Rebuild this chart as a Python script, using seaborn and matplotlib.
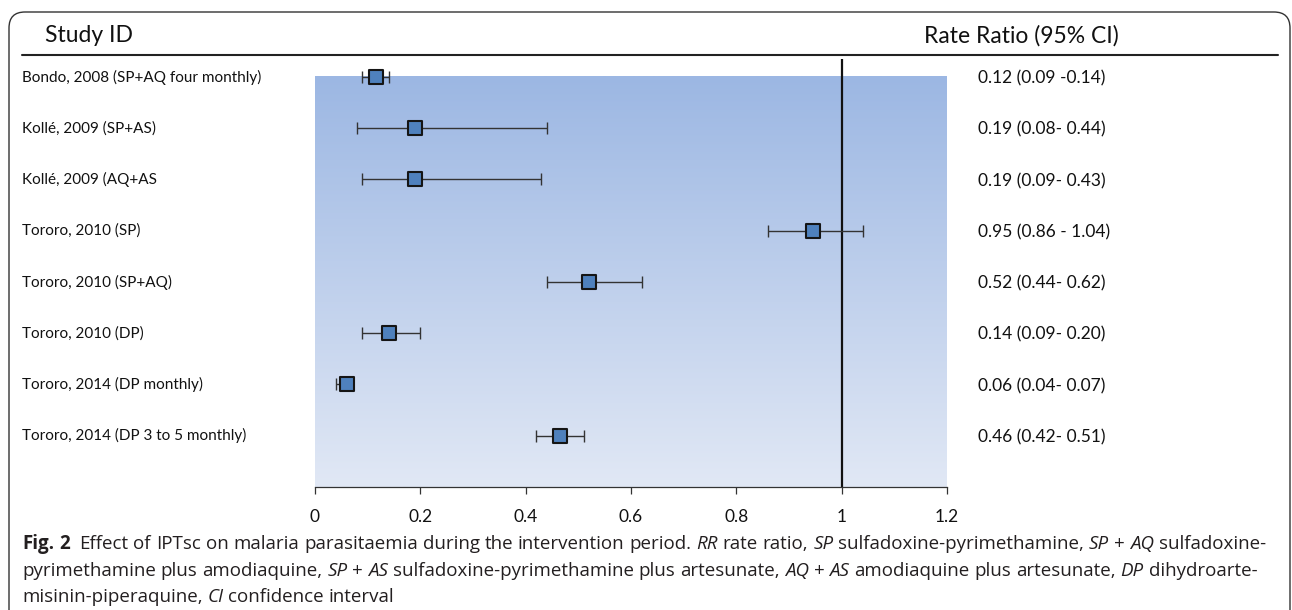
import matplotlib
matplotlib.use("Agg")
import matplotlib.pyplot as plt
import matplotlib.transforms as mtransforms
from matplotlib.patches import FancyBboxPatch
from matplotlib.colors import LinearSegmentedColormap
import numpy as np
import pandas as pd
import seaborn as sns

# ---------------- data ----------------
studies = [
    "Bondo, 2008 (SP+AQ four monthly)",
    "Kollé, 2009 (SP+AS)",
    "Kollé, 2009 (AQ+AS",
    "Tororo, 2010 (SP)",
    "Tororo, 2010 (SP+AQ)",
    "Tororo, 2010 (DP)",
    "Tororo, 2014 (DP monthly)",
    "Tororo, 2014 (DP 3 to 5 monthly)",
]
rate_ratio = [0.115, 0.19, 0.19, 0.945, 0.52, 0.14, 0.06, 0.465]
ci_low = [0.09, 0.08, 0.09, 0.86, 0.44, 0.09, 0.04, 0.42]
ci_high = [0.14, 0.44, 0.43, 1.04, 0.62, 0.20, 0.07, 0.51]
rr_labels = [
    "0.12 (0.09 -0.14)",
    "0.19 (0.08- 0.44)",
    "0.19 (0.09- 0.43)",
    "0.95 (0.86 - 1.04)",
    "0.52 (0.44- 0.62)",
    "0.14 (0.09- 0.20)",
    "0.06 (0.04- 0.07)",
    "0.46 (0.42- 0.51)",
]
x_ticks = [0, 0.2, 0.4, 0.6, 0.8, 1.0, 1.2]
x_tick_labels = ["0", "0.2", "0.4", "0.6", "0.8", "1", "1.2"]

df = pd.DataFrame({"study": studies, "rr": rate_ratio, "lo": ci_low, "hi": ci_high,
                   "row": np.arange(len(studies))})

# ---------------- figure ----------------
sns.set_theme(style="white")
plt.rcParams["font.family"] = ["Lato", "DejaVu Sans"]

W, H = 1292, 610
fig = plt.figure(figsize=(W / 100, H / 100), dpi=100)

def fx(px):
    return px / W

def fy(py):
    return 1 - py / H

ax_left, ax_right, ax_top, ax_bot = 315, 947, 59, 487
ax = fig.add_axes([fx(ax_left), fy(ax_bot), fx(ax_right - ax_left), (ax_bot - ax_top) / H])
row_step = 51.3
y_top = (ax_top - 77) / row_step
ax.set_xlim(0, 1.2)
ax.set_ylim(8, y_top)

# gradient shading
cmap = LinearSegmentedColormap.from_list("g", ["#9CB7E3", "#E1E8F5"])
grad = np.linspace(0, 1, 256).reshape(-1, 1)
ax.imshow(grad, cmap=cmap, aspect="auto", extent=[0, 1.2, 8, 0], zorder=0, interpolation="bilinear")

ax.axvline(1.0, color="#111111", lw=1.6, zorder=1)

ax.errorbar(df["rr"], df["row"],
            xerr=[df["rr"] - df["lo"], df["hi"] - df["rr"]],
            fmt="none", ecolor="#333333", elinewidth=1.0, capsize=4.5, capthick=1.0, zorder=2)
sns.scatterplot(data=df, x="rr", y="row", marker="s", s=100, color="#4F81BD",
                edgecolor="#151515", linewidth=1.5, ax=ax, zorder=3, legend=False)

ax.set_xlabel("")
ax.set_ylabel("")
ax.set_yticks([])
ax.set_xticks(x_ticks)
ax.set_xticklabels(x_tick_labels, fontsize=12.5, color="#111111")
ax.tick_params(axis="x", direction="out", length=5, width=0.9, color="#333333", pad=11, bottom=True)
for side in ["top", "left", "right"]:
    ax.spines[side].set_visible(False)
ax.spines["bottom"].set_color("#333333")
ax.spines["bottom"].set_linewidth(0.9)
ax.set_facecolor("none")
ax.grid(False)

# row labels and rate ratio texts
trans = mtransforms.blended_transform_factory(fig.transFigure, ax.transData)
for i, (s, r) in enumerate(zip(studies, rr_labels)):
    ax.text(fx(22), i, s, transform=trans, ha="left", va="center", fontsize=11,
            color="#111111", clip_on=False)
    ax.text(fx(978), i + 0.03, r, transform=trans, ha="left", va="center", fontsize=12.5,
            color="#111111", clip_on=False)

# headers
fig.text(fx(45), fy(36), "Study ID", ha="left", va="center", fontsize=16.5, color="#111111")
fig.text(fx(924), fy(36), "Rate Ratio (95% CI)", ha="left", va="center", fontsize=16.5, color="#111111")
fig.add_artist(plt.Line2D([fx(22), fx(1278)], [fy(55), fy(55)], color="#222222", lw=1.5,
                          transform=fig.transFigure))

# border
box = FancyBboxPatch((0.09, -0.6), 12.81, 6.58, boxstyle="round,pad=0,rounding_size=0.16",
                     transform=fig.dpi_scale_trans, fill=False, edgecolor="#333333", lw=1.0)
fig.patches.append(box)

# caption with mixed styles
fig.canvas.draw()
renderer = fig.canvas.get_renderer()
cap_size = 13.5
cap_color = "#231F20"
cap_family = ["Open Sans", "DejaVu Sans"]

def text_width(s, **kw):
    t = fig.text(0, 0, s, fontsize=cap_size, family=cap_family, **kw)
    w = t.get_window_extent(renderer).width
    t.remove()
    return w

space_w = text_width("a a") - text_width("aa")

def draw_runs(runs, x0, yc):
    x = x0
    for s, style in runs:
        kw = {}
        if style == "b":
            kw["fontweight"] = "bold"
        elif style == "i":
            kw["fontstyle"] = "italic"
        parts = s.split(" ")
        for k, p in enumerate(parts):
            if p:
                t = fig.text(x / W, fy(yc), p, fontsize=cap_size, family=cap_family,
                             color=cap_color, ha="left", va="center", **kw)
                x += t.get_window_extent(renderer).width
            if k < len(parts) - 1:
                x += space_w

line1 = [("Fig. 2", "b"), ("  Effect of IPTsc on malaria parasitaemia during the intervention period. ", "r"),
         ("RR", "i"), (" rate ratio, ", "r"), ("SP", "i"), (" sulfadoxine-pyrimethamine, ", "r"),
         ("SP", "i"), (" + ", "r"), ("AQ", "i"), (" sulfadoxine-", "r")]
line2 = [("pyrimethamine plus amodiaquine, ", "r"), ("SP", "i"), (" + ", "r"), ("AS", "i"),
         (" sulfadoxine-pyrimethamine plus artesunate, ", "r"), ("AQ", "i"), (" + ", "r"), ("AS", "i"),
         (" amodiaquine plus artesunate, ", "r"), ("DP", "i"), (" dihydroarte-", "r")]
line3 = [("misinin-piperaquine, ", "r"), ("CI", "i"), (" confidence interval", "r")]

draw_runs(line1, 22, 544)
draw_runs(line2, 22, 571)
draw_runs(line3, 22, 597)

fig.savefig("out.png", dpi=100)
